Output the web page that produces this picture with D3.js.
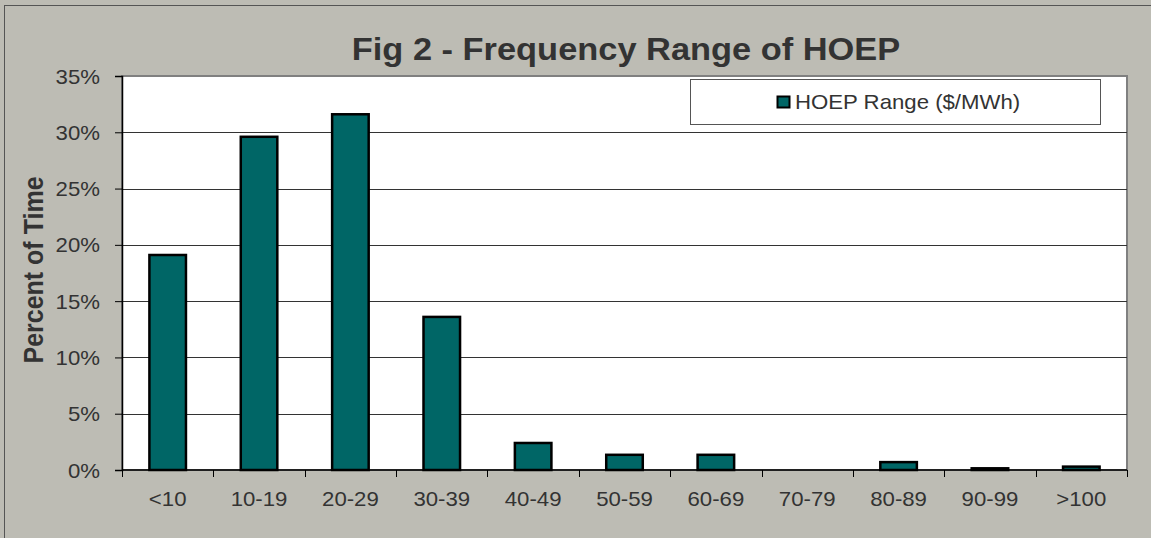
<!DOCTYPE html>
<html>
<head>
<meta charset="utf-8">
<script src="https://cdn.jsdelivr.net/npm/d3@7"></script>
<style>
  html, body { margin: 0; padding: 0; background: #bdbcb4; }
  svg { display: block; font-family: "Liberation Sans", Arial, sans-serif; }
</style>
</head>
<body>
<div id="chart"></div>
<script>
// values
const ranges = ["<10", "10-19", "20-29", "30-39", "40-49", "50-59", "60-69", "70-79", "80-89", "90-99", ">100"];
const percentOfTime = [19.1, 29.6, 31.6, 13.6, 2.4, 1.35, 1.35, 0, 0.7, 0.15, 0.3];
const yTicks = [0, 5, 10, 15, 20, 25, 30, 35];

const width = 1151;
const height = 538;
const margin = { top: 76, right: 24, bottom: 68, left: 122 };
const plotW = width - margin.left - margin.right;
const plotH = height - margin.top - margin.bottom;
// the original picture is a bit stretched sideways, text included
const sx = 1.11;

const svg = d3
  .select("#chart")
  .append("svg")
  .attr("width", width)
  .attr("height", height);

// chart area + frame
svg
  .append("rect")
  .attr("x", 4.5)
  .attr("y", 5.5)
  .attr("width", width + 10)
  .attr("height", height + 10)
  .attr("fill", "#bdbcb4")
  .attr("stroke", "#555");

const g = svg.append("g").attr("transform", `translate(${margin.left},${margin.top})`);

const x = d3.scaleBand().domain(ranges).range([0, plotW]).paddingInner(0.6).paddingOuter(0.3);
const xb = d3.scaleBand().domain(ranges).range([0, plotW]);
const y = d3.scaleLinear().domain([0, 35]).range([plotH, 0]);

// plot area
g.append("rect")
  .attr("x", 0)
  .attr("y", 0)
  .attr("width", plotW)
  .attr("height", plotH)
  .attr("fill", "#fff")
  .attr("stroke", "#808080")
  .attr("stroke-width", 2);

// gridlines
g.selectAll(".grid")
  .data(yTicks.filter((d) => d > 0 && d < 35))
  .join("line")
  .attr("class", "grid")
  .attr("x1", 0)
  .attr("x2", plotW)
  .attr("y1", (d) => Math.round(y(d)) + 0.5)
  .attr("y2", (d) => Math.round(y(d)) + 0.5)
  .attr("stroke", "#333")
  .attr("stroke-width", 1);

// bars
g.selectAll(".bar")
  .data(percentOfTime.map((v, i) => ({ range: ranges[i], v })))
  .join("rect")
  .attr("class", "bar")
  .attr("x", (d) => x(d.range))
  .attr("width", x.bandwidth())
  .attr("y", (d) => y(d.v))
  .attr("height", (d) => plotH - y(d.v))
  .attr("fill", "#006666")
  .attr("stroke", "#000")
  .attr("stroke-width", (d) => (d.v > 0 ? 2.5 : 0));

// y axis
const yAxis = g
  .append("g")
  .call(
    d3
      .axisLeft(y)
      .tickValues(yTicks)
      .tickSize(7)
      .tickFormat((d) => d + "%"),
  );
yAxis.select(".domain").attr("stroke", "#000").attr("stroke-width", 1.5);
yAxis.selectAll(".tick line").attr("stroke", "#000");
yAxis
  .selectAll(".tick text")
  .attr("x", 0)
  .attr("dy", "0.35em")
  .attr("transform", `translate(-22,0) scale(${sx},1)`)
  .attr("fill", "#333")
  .style("font-size", "20px");

// x axis
const xAxis = g.append("g").attr("transform", `translate(0,${plotH})`);
xAxis
  .append("line")
  .attr("x1", 0)
  .attr("x2", plotW)
  .attr("stroke", "#000")
  .attr("stroke-width", 1.5);
xAxis
  .selectAll(".xtick")
  .data(ranges.concat([null]))
  .join("line")
  .attr("class", "xtick")
  .attr("x1", (d, i) => Math.round(i * xb.step()) + 0.5)
  .attr("x2", (d, i) => Math.round(i * xb.step()) + 0.5)
  .attr("y1", 0)
  .attr("y2", 7)
  .attr("stroke", "#000");
xAxis
  .selectAll(".xlabel")
  .data(ranges)
  .join("text")
  .attr("class", "xlabel")
  .attr("transform", (d) => `translate(${xb(d) + xb.bandwidth() / 2},36) scale(${sx},1)`)
  .attr("text-anchor", "middle")
  .attr("fill", "#333")
  .style("font-size", "20px")
  .text((d) => d);

// y title
svg
  .append("text")
  .attr("transform", `translate(43,270) scale(${sx},1) rotate(-90)`)
  .attr("text-anchor", "middle")
  .attr("fill", "#333")
  .style("font-size", "25px")
  .style("font-weight", "bold")
  .text("Percent of Time");

// title
svg
  .append("text")
  .attr("transform", `translate(626,60) scale(${sx},1)`)
  .attr("text-anchor", "middle")
  .attr("fill", "#333")
  .style("font-size", "31px")
  .style("font-weight", "bold")
  .text("Fig 2 - Frequency Range of HOEP");

// legend
const lg = svg.append("g");
lg.append("rect")
  .attr("x", 690.5)
  .attr("y", 79.5)
  .attr("width", 410)
  .attr("height", 45)
  .attr("fill", "#fff")
  .attr("stroke", "#555");
lg.append("rect")
  .attr("x", 777.5)
  .attr("y", 96.5)
  .attr("width", 12)
  .attr("height", 11)
  .attr("fill", "#006666")
  .attr("stroke", "#000")
  .attr("stroke-width", 2);
lg.append("text")
  .attr("transform", `translate(795,109) scale(${sx},1)`)
  .attr("fill", "#333")
  .style("font-size", "20px")
  .text("HOEP Range ($/MWh)");
</script>
</body>
</html>
